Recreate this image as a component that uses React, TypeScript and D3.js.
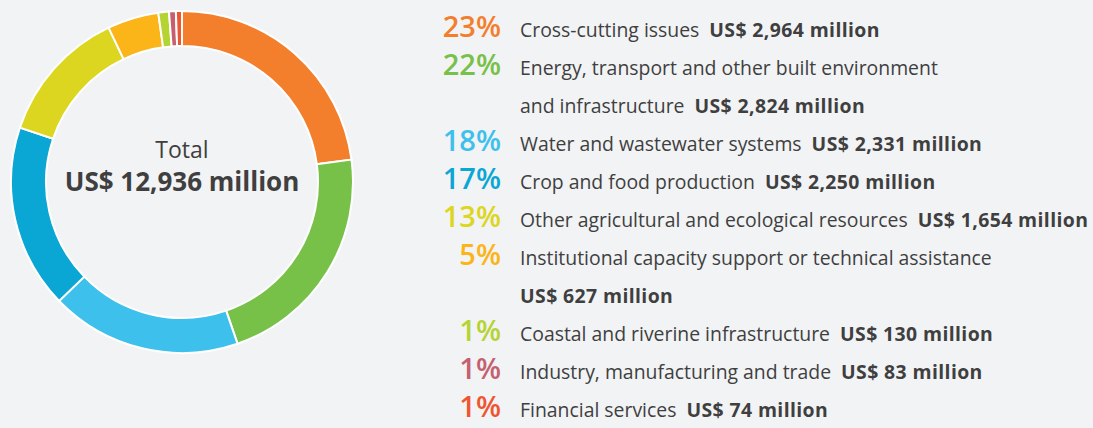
import * as d3 from "d3";
import { useMemo } from "react";

const width = 1093;
const height = 428;

const categories = [
  "Cross-cutting issues",
  "Energy, transport and other built environment and infrastructure",
  "Water and wastewater systems",
  "Crop and food production",
  "Other agricultural and ecological resources",
  "Institutional capacity support or technical assistance",
  "Coastal and riverine infrastructure",
  "Industry, manufacturing and trade",
  "Financial services",
];
const values = [2964, 2824, 2331, 2250, 1654, 627, 130, 83, 74];
const percents = ["23%", "22%", "18%", "17%", "13%", "5%", "1%", "1%", "1%"];
const amounts = [
  "US$ 2,964 million",
  "US$ 2,824 million",
  "US$ 2,331 million",
  "US$ 2,250 million",
  "US$ 1,654 million",
  "US$ 627 million",
  "US$ 130 million",
  "US$ 83 million",
  "US$ 74 million",
];
// how the legend wraps: label lines per item, amount goes on the last line
const labelLines = [
  ["Cross-cutting issues"],
  ["Energy, transport and other built environment", "and infrastructure"],
  ["Water and wastewater systems"],
  ["Crop and food production"],
  ["Other agricultural and ecological resources"],
  ["Institutional capacity support or technical assistance", ""],
  ["Coastal and riverine infrastructure"],
  ["Industry, manufacturing and trade"],
  ["Financial services"],
];
const colors = [
  "#f37f2d",
  "#78c148",
  "#3dc0eb",
  "#0aa6d4",
  "#ddd620",
  "#fbb519",
  "#b6d334",
  "#c65f70",
  "#ee5632",
];
const totalLabel = "US$ 12,936 million";

const font = "'Open Sans', 'Noto Sans', sans-serif";
const textColor = "#3f3f3f";

export default function App() {
  const cx = 182;
  const cy = 182;
  const outerRadius = 171;
  const innerRadius = 136;

  const arcs = useMemo(
    () =>
      d3
        .pie<number>()
        .sort(null)
        .value((d) => d)(values),
    []
  );
  const arc = d3
    .arc<d3.PieArcDatum<number>>()
    .innerRadius(innerRadius)
    .outerRadius(outerRadius);

  const lineStep = 38;
  const firstBaseline = 37;
  let row = 0;
  const rows = labelLines.map((lines, i) => {
    const start = row;
    row += lines.length;
    return { i, start, lines };
  });

  return (
    <svg
      width={width}
      height={height}
      style={{ position: "absolute", left: 0, top: 0, display: "block" }}
    >
      <rect width={width} height={height} fill="#f2f3f5" />
      <g transform={`translate(${cx},${cy})`}>
        {arcs.map((a, i) => (
          <path
            key={categories[i]}
            d={arc(a) ?? ""}
            fill={colors[i]}
            stroke="#ffffff"
            strokeWidth={2}
          />
        ))}
        <text
          y={-24}
          textAnchor="middle"
          fontFamily={font}
          fontSize={23}
          fill={textColor}
        >
          Total
        </text>
        <text
          y={9}
          textAnchor="middle"
          fontFamily={font}
          fontSize={26}
          fontWeight="bold"
          fill={textColor}
        >
          {totalLabel}
        </text>
      </g>
      <g fontFamily={font}>
        {rows.map(({ i, start, lines }) => (
          <g key={categories[i]}>
            <text
              x={501}
              y={firstBaseline + start * lineStep}
              textAnchor="end"
              fontSize={29}
              fontWeight={600}
              fill={colors[i]}
            >
              {percents[i]}
            </text>
            {lines.map((line, j) => (
              <text
                key={j}
                x={520}
                y={firstBaseline + (start + j) * lineStep}
                fontSize={19.4}
                fill={textColor}
              >
                {line}
                {j === lines.length - 1 && (
                  <tspan
                    fontWeight="bold"
                    letterSpacing={0.4}
                    dx={line ? 10 : 0}
                  >
                    {amounts[i]}
                  </tspan>
                )}
              </text>
            ))}
          </g>
        ))}
      </g>
    </svg>
  );
}
